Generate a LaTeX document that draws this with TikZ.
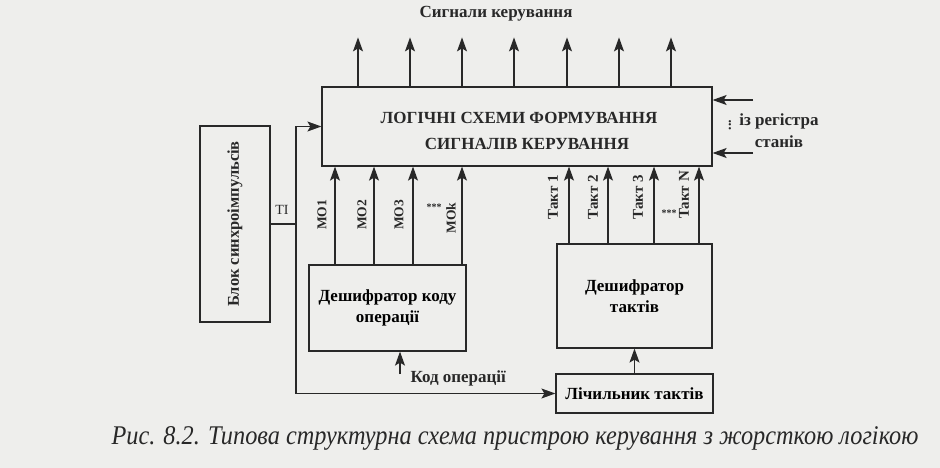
\documentclass[tikz,border=0pt]{standalone}
\usepackage{fontspec}
\setmainfont{Liberation Serif}
\usetikzlibrary{arrows.meta}
\definecolor{paper}{RGB}{238,238,236}
\definecolor{ink}{RGB}{40,40,40}
\tikzset{
  blok/.style={draw=ink, line width=1.2pt, font=\bfseries\fontsize{17}{21}\selectfont, align=center},
  arr/.style={-{Stealth[length=14pt,width=10pt,inset=3pt]}, draw=ink, line width=1.2pt},
  lin/.style={draw=ink, line width=1.2pt},
  vlbl/.style={rotate=90, font=\bfseries\fontsize{15}{17}\selectfont, text=ink},
  lbl/.style={font=\bfseries\fontsize{17}{22}\selectfont, text=ink}
}
\begin{document}
\begin{tikzpicture}[x=1pt, y=-1pt]
  % 0. Fondo
  \fill[paper] (0,0) rectangle (940,468);
  \useasboundingbox (0,0) rectangle (940,468);

  % 1. Bloques
  \node[blok, minimum width=390pt, minimum height=79pt] (main) at (517,126.5) {};
  \node[lbl, align=center, font=\bfseries\fontsize{17}{26}\selectfont] (maintxt) at (519,131)
    {ЛОГІЧНІ СХЕМИ ФОРМУВАННЯ\\ \hspace*{16pt}СИГНАЛІВ КЕРУВАННЯ};
  \node[blok, minimum width=70pt, minimum height=196pt] (sync) at (235,224) {};
  \node[vlbl, font=\bfseries\fontsize{16.5}{18}\selectfont] (synctxt) at (sync) {Блок синхроімпульсів};
  \node[blok, minimum width=157pt, minimum height=86pt] (opdec) at (387.5,308)
    {Дешифратор коду\\ операції};
  \node[blok, minimum width=155pt, minimum height=104pt] (tdec) at (634.5,296)
    {Дешифратор\\ тактів};
  \node[blok, minimum width=157pt, minimum height=39pt] (cnt) at (634.5,393.5)
    {Лічильник тактів};

  % 2. Señales de salida
  \node[lbl] (sig) at (496,14) {Сигнали керування};
  \foreach \x in {358,410,462,514,567,619,671}
    \draw[arr] (\x,0 |- main.north) -- ++(0,-49);

  % 3. Microoperaciones
  \foreach \x in {335,374,413,462}
    \draw[arr] (\x,0 |- opdec.north) -- (\x,0 |- main.south);
  \node[vlbl, font=\bfseries\fontsize{13.5}{15}\selectfont] (mo1) at (322,215) {МО1};
  \node[vlbl, font=\bfseries\fontsize{13.5}{15}\selectfont] (mo2) at (362,215) {МО2};
  \node[vlbl, font=\bfseries\fontsize{13.5}{15}\selectfont] (mo3) at (399,215) {МО3};
  \node[vlbl, font=\bfseries\fontsize{13.5}{15}\selectfont] (mok) at (451,218) {МОk};
  \node[lbl, font=\bfseries\fontsize{10}{10}\selectfont] (mdots) at (434,207) {***};

  % 4. Tactos
  \foreach \x in {569,608,654,699}
    \draw[arr] (\x,0 |- tdec.north) -- (\x,0 |- main.south);
  \node[vlbl] (t1) at (553,197) {Такт 1};
  \node[vlbl] (t2) at (593,197) {Такт 2};
  \node[vlbl] (t3) at (638,197) {Такт 3};
  \node[vlbl] (tn) at (684,195) {Такт N};
  \node[lbl, font=\bfseries\fontsize{10}{10}\selectfont] (tdots) at (669,213) {***};
  \draw[arr] (cnt) -- (tdec);

  % 5. Registro de estados
  \coordinate (rs1) at (753,100);
  \coordinate (rs2) at (753,153);
  \draw[arr] (rs1) -- (rs1 -| main.east);
  \draw[arr] (rs2) -- (rs2 -| main.east);
  \node[lbl, rotate=90, font=\bfseries\fontsize{14}{14}\selectfont] (rdots) at (730,125) {...};
  \node[lbl, align=center] (reg) at (779,131) {із регістра\\ станів};

  % 6. Impulsos de reloj
  \coordinate (bus) at (296,393.5);
  \draw[arr] (bus) |- (main.west);
  \draw[arr] (bus) -- (cnt.west);
  \draw[lin] (sync.east) -- (sync.east -| bus);
  \node[lbl, font=\fontsize{14}{16}\selectfont] (ti) at (282,210) {ТІ};

  % 7. Código de operación
  \coordinate (kop) at (400,374);
  \draw[arr] (kop) -- (kop |- opdec.south);
  \node[lbl, anchor=west] (koptxt) at (407,378) {Код операції};

  % 8. Pie de figura
  \node[font=\itshape\fontsize{27}{30}\selectfont, text=ink, xscale=0.9] (cap) at (515,438)
    {Рис. 8.2. Типова структурна схема пристрою керування з жорсткою логікою};
\end{tikzpicture}
\end{document}
